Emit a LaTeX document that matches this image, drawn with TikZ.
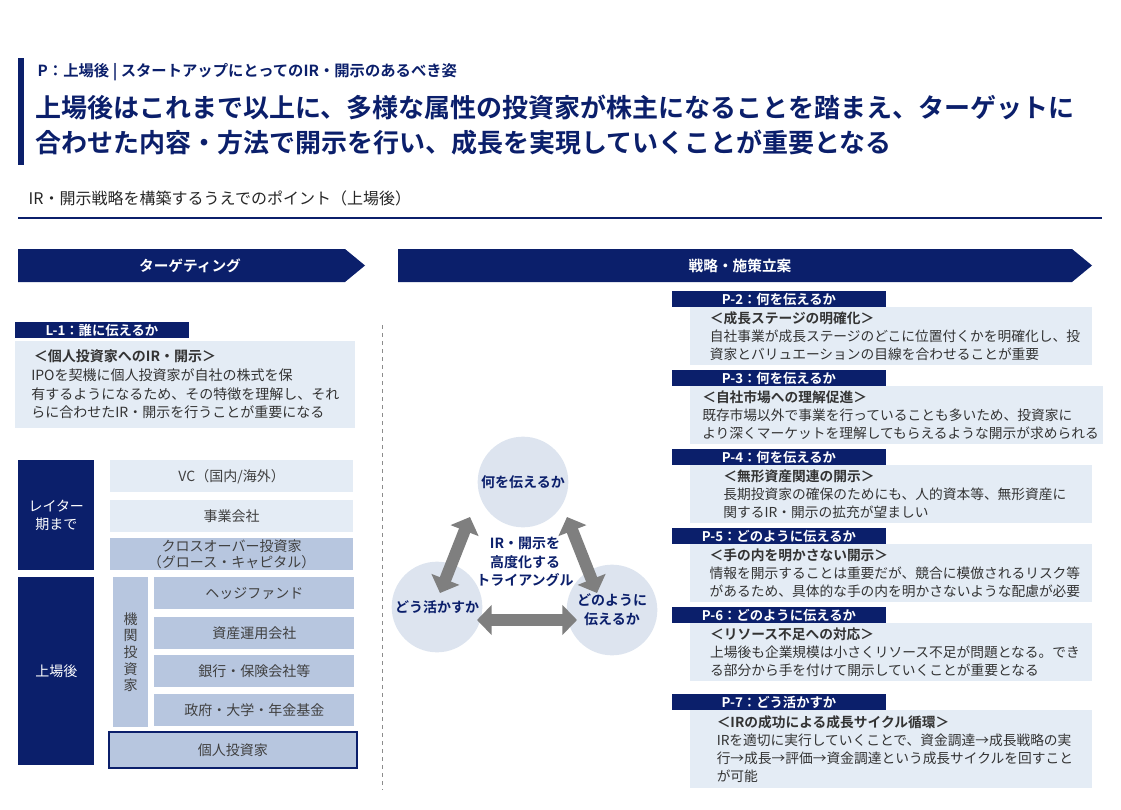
\documentclass[tikz,border=0pt]{standalone}
\usepackage{fontspec}
\setmainfont{Noto Sans CJK JP}[BoldFont={Noto Sans CJK JP Bold}]
\usetikzlibrary{arrows.meta,positioning}
\definecolor{navy}{HTML}{0B1F6B}
\definecolor{paleblue}{HTML}{E4ECF5}
\definecolor{midblue}{HTML}{B7C6DF}
\definecolor{circblue}{HTML}{DDE4EF}
\definecolor{arrgray}{HTML}{7F7F7F}
\tikzset{
  hdr/.style={font=\fontsize{11}{13}\selectfont\bfseries, text=white},
  lbl/.style={fill=navy, text=white, font=\fontsize{10}{12}\selectfont\bfseries, anchor=north west, inner sep=0pt, inner xsep=3pt, minimum height=12pt, text depth=0pt, align=left},
  pbox/.style={fill=paleblue, anchor=north west, inner sep=3pt, align=left, text=black!80, font=\fontsize{10.3}{13.5}\selectfont},
  stage/.style={fill=navy, text=white, anchor=north west, inner sep=0pt, align=center, font=\fontsize{10.5}{13}\selectfont},
  row/.style={fill=midblue, anchor=north west, inner sep=0pt, align=center, text=black!75, font=\fontsize{10.5}{12}\selectfont},
  circ/.style={circle, fill=circblue, minimum size=68pt, inner sep=0pt, align=center, text=navy, font=\fontsize{10.5}{14}\selectfont\bfseries},
  triarrow/.style={arrgray, line width=9pt, {Triangle[width=22pt,length=11pt]}-{Triangle[width=22pt,length=11pt]}}
}
\begin{document}
\begin{tikzpicture}[x=0.75pt,y=-0.75pt]
  \useasboundingbox (0,0) rectangle (1121,810);
  % heading
  \fill[navy] (18,58) rectangle (24,165);
  \node[anchor=west, text=navy, font=\fontsize{11.5}{13}\selectfont\bfseries] (kicker) at (33,72) {P：上場後 | スタートアップにとってのIR・開示のあるべき姿};
  \node[anchor=north west, text=navy, align=left, font=\fontsize{19.5}{26}\selectfont\bfseries, inner sep=0pt] (title) at (35,95) {上場後はこれまで以上に、多様な属性の投資家が株主になることを踏まえ、ターゲットに\\合わせた内容・方法で開示を行い、成長を実現していくことが重要となる};
  \node[anchor=west, text=black!85, font=\fontsize{12}{14}\selectfont] (sub) at (24,198) {IR・開示戦略を構築するうえでのポイント（上場後）};
  \draw[navy, line width=0.8pt] (18,218) -- (1102,218);
  % chevrons
  \fill[navy] (18,249) -- (345,249) -- (365,265.5) -- (345,282) -- (18,282) -- cycle;
  \node[hdr] (target) at (190,265.5) {ターゲティング};
  \fill[navy] (398,249) -- (1072,249) -- (1092,265.5) -- (1072,282) -- (398,282) -- cycle;
  \node[hdr] (plan) at (740,265.5) {戦略・施策立案};
  % L-1
  \node[lbl, minimum width=130pt] (l1) at (15,322) {L-1：誰に伝えるか};
  \node[pbox, minimum width=255pt, minimum height=65pt, font=\fontsize{10.5}{14}\selectfont] (l1box) at (15,341)
    {\textbf{\hspace*{2pt}＜個人投資家へのIR・開示＞}\\IPOを契機に個人投資家が自社の株式を保\\有するようになるため、その特徴を理解し、それ\\らに合わせたIR・開示を行うことが重要になる};
  \draw[black!45, dashed] (382,325) -- (382,790);
  % investor table
  \node[stage, minimum width=57pt, minimum height=82.5pt] (later) at (18,460) {レイター\\期まで};
  \node[stage, minimum width=57pt, minimum height=141pt] (listed) at (18,577) {上場後};
  \node[row, fill=paleblue, minimum width=182pt, minimum height=24pt] (vc) at (110,460) {VC（国内/海外）};
  \node[row, fill=paleblue, minimum width=182pt, minimum height=24pt] (corp) at (110,500) {事業会社};
  \node[row, minimum width=182pt, minimum height=24pt, font=\fontsize{10.5}{11.5}\selectfont] (cross) at (110,538) {クロスオーバー投資家\\（グロース・キャピタル）};
  \node[row, minimum width=26pt, minimum height=112.5pt, font=\fontsize{10.5}{12.5}\selectfont] (inst) at (113,577) {機\\関\\投\\資\\家};
  \node[row, minimum width=150pt, minimum height=24pt] (hedge) at (154,577) {ヘッジファンド};
  \node[row, minimum width=150pt, minimum height=24pt] (asset) at (154,617) {資産運用会社};
  \node[row, minimum width=150pt, minimum height=24pt] (bank) at (154,655) {銀行・保険会社等};
  \node[row, minimum width=150pt, minimum height=24pt] (gov) at (154,694) {政府・大学・年金基金};
  \node[row, draw=navy, line width=1.2pt, minimum width=186pt, minimum height=27pt] (retail) at (108,731) {個人投資家};
  % triangle
  \node[circ] (what) at (523,482) {何を伝えるか};
  \node[circ] (use) at (437,607) {どう活かすか};
  \node[circ] (how) at (612,610) {どのように\\伝えるか};
  \coordinate (wl) at (470,517); \coordinate (ul) at (440,593);
  \coordinate (wr) at (567,517); \coordinate (hr) at (597,593);
  \coordinate (uh) at (477,620); \coordinate (hu) at (577,620);
  \draw[triarrow] (wl) -- (ul);
  \draw[triarrow] (wr) -- (hr);
  \draw[triarrow] (uh) -- (hu);
  \node[align=center, text=navy, font=\fontsize{10.5}{14}\selectfont\bfseries] (core) at (525,562) {IR・開示を\\高度化する\\トライアングル};
  % P items
  \node[lbl, minimum width=160pt] (p2) at (672,291) {P-2：何を伝えるか};
  \node[pbox, minimum width=301pt, minimum height=43pt] (p2box) at (690,307)
    {\textbf{\hspace*{6pt}＜成長ステージの明確化＞}\\\hspace*{6pt}自社事業が成長ステージのどこに位置付くかを明確化し、投\\\hspace*{6pt}資家とバリュエーションの目線を合わせることが重要};
  \node[lbl, minimum width=160pt] (p3) at (672,370) {P-3：何を伝えるか};
  \node[pbox, minimum width=301pt, minimum height=43pt] (p3box) at (690,386)
    {\textbf{\hspace*{6pt}＜自社市場への理解促進＞}\\\hspace*{6pt}既存市場以外で事業を行っていることも多いため、投資家に\\\hspace*{6pt}より深くマーケットを理解してもらえるような開示が求められる};
  \node[lbl, minimum width=160pt] (p4) at (672,449) {P-4：何を伝えるか};
  \node[pbox, minimum width=301pt, minimum height=43pt] (p4box) at (690,465)
    {\textbf{\hspace*{6pt}＜無形資産関連の開示＞}\\\hspace*{6pt}長期投資家の確保のためにも、人的資本等、無形資産に\\\hspace*{6pt}関するIR・開示の拡充が望ましい};
  \node[lbl, minimum width=160pt] (p5) at (672,528) {P-5：どのように伝えるか};
  \node[pbox, minimum width=301pt, minimum height=43pt] (p5box) at (690,544)
    {\textbf{\hspace*{6pt}＜手の内を明かさない開示＞}\\\hspace*{6pt}情報を開示することは重要だが、競合に模倣されるリスク等\\\hspace*{6pt}があるため、具体的な手の内を明かさないような配慮が必要};
  \node[lbl, minimum width=160pt] (p6) at (672,607) {P-6：どのように伝えるか};
  \node[pbox, minimum width=301pt, minimum height=43pt] (p6box) at (690,623)
    {\textbf{\hspace*{6pt}＜リソース不足への対応＞}\\\hspace*{6pt}上場後も企業規模は小さくリソース不足が問題となる。でき\\\hspace*{6pt}る部分から手を付けて開示していくことが重要となる};
  \node[lbl, minimum width=160pt] (p7) at (672,694) {P-7：どう活かすか};
  \node[pbox, minimum width=301pt, minimum height=58pt] (p7box) at (690,710)
    {\textbf{\hspace*{6pt}＜IRの成功による成長サイクル循環＞}\\\hspace*{6pt}IRを適切に実行していくことで、資金調達→成長戦略の実\\\hspace*{6pt}行→成長→評価→資金調達という成長サイクルを回すこと\\\hspace*{6pt}が可能};
\end{tikzpicture}
\end{document}
